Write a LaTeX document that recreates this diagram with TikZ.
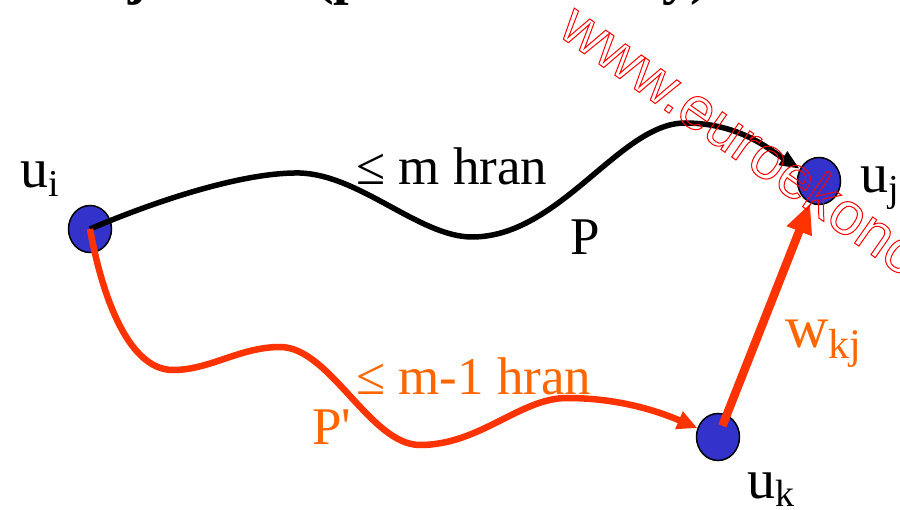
\documentclass[tikz,border=0pt]{standalone}
\usepackage{fontspec}
\setmainfont{Liberation Serif}
\newfontfamily\rawserif{Liberation Serif}
\newfontfamily\wmfont{Liberation Sans}
\usetikzlibrary{arrows.meta,shapes.geometric}
\definecolor{nodeblue}{HTML}{3333CC}
\definecolor{edgeorange}{HTML}{FF3300}
\definecolor{textorange}{HTML}{FF6600}
\newcommand\lowsub[1]{\raisebox{-9pt}{\fontsize{38}{40}\selectfont #1}}
\newcommand\lowsubw[1]{\raisebox{-11pt}{\fontsize{42}{44}\selectfont #1}}
\newcommand\outl[1]{\special{pdf:code q 1 Tr 1 w 1 0 0 RG}#1\special{pdf:code Q}}
\begin{document}
\begin{tikzpicture}[x=1pt,y=-1pt,
  vert/.style={ellipse, draw=black, line width=1.5pt, fill=nodeblue,
    minimum width=43pt, minimum height=47pt, inner sep=0pt},
  vlabel/.style={anchor=base west, inner sep=0pt, font=\fontsize{56}{60}\selectfont},
  elabel/.style={anchor=base west, inner sep=0pt, font=\fontsize{53}{58}\selectfont},
  titlefrag/.style={anchor=base west, inner sep=0pt, font=\bfseries\fontsize{56}{62}\selectfont},
  blackedge/.style={line width=5.5pt, black, -{Triangle[length=20pt,width=15pt]}},
  orangeedge/.style={line width=6.5pt, edgeorange, -{Triangle[length=20pt,width=18pt]}},
  weightedge/.style={line width=8.5pt, edgeorange, -{Triangle[length=30pt,width=25pt]}}]
\useasboundingbox (0,0) rectangle (900,510);
\clip (0,0) rectangle (900,510);

% cut-off title fragments
\node[titlefrag] (t1) at (128,-6) {j};
\node[titlefrag] (t2) at (315,-6) {(p};
\node[titlefrag] (t3) at (662,-6) {y)};

% vertices
\node[vert] (ui) at (90,229) {};
\node[vert] (uj) at (819,181) {};
\node[vert] (uk) at (718,437) {};

% edges
\draw[blackedge] (ui.center) .. controls (170,195) and (250,172) .. (300,173)
  .. controls (360,175) and (420,237) .. (472,237)
  .. controls (560,237) and (620,123) .. (685,123)
  .. controls (740,123) and (770,150) .. (uj);
\draw[orangeedge] (ui.center) .. controls (100,285) and (125,370) .. (173,370)
  .. controls (210,370) and (240,347) .. (280,347)
  .. controls (330,347) and (370,445) .. (420,445)
  .. controls (480,445) and (520,398) .. (567,398)
  .. controls (620,398) and (660,412) .. (uk);
\draw[weightedge, shorten <=12pt] (uk.center) -- (uj);

% labels
\node[vlabel] (lui) at (20,188) {u\lowsub{i}};
\node[vlabel] (luj) at (860,193) {u\lowsub{j}};
\node[vlabel] (luk) at (747,498) {u\lowsub{k}};
\node[elabel] (lm) at (356,185) {≤ m hran};
\node[elabel] (lP) at (570,255) {P};
\node[elabel, text=textorange] (lm1) at (356,395) {≤ m-1 hran};
\node[elabel, text=textorange] (lPp) at (312,445) {P{\rawserif '}};
\node[vlabel, text=textorange, font=\fontsize{60}{64}\selectfont] (lw) at (785,348) {w\lowsubw{kj}};

% watermark
\node[rotate=-35, anchor=base west, inner sep=0pt, text=red,
  font=\wmfont\fontsize{60}{64}\selectfont] (wm) at (556,34) {\outl{www.euroekonom.cz}};
\end{tikzpicture}
\end{document}
